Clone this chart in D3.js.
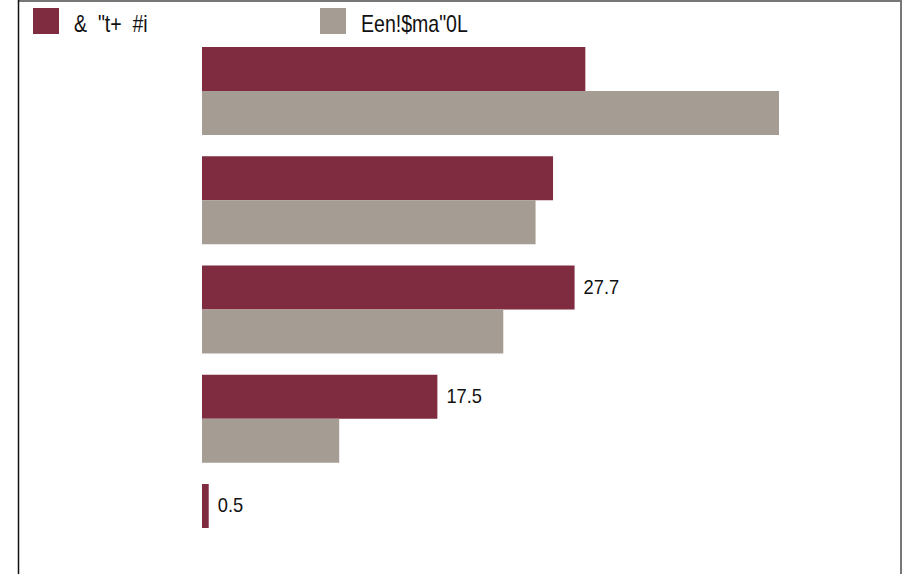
<!DOCTYPE html>
<html><head><meta charset="utf-8">
<script src="https://cdn.jsdelivr.net/npm/d3@7"></script>
<style>
html,body{margin:0;padding:0;background:#fff;}
svg{display:block;}
text{white-space:pre;}
</style></head>
<body>
<svg id="chart" width="909" height="574"></svg>
<script>
const categories = ["c1","c2","c3","c4","c5"];
const seriesNames = ["&  \"t+  #i", "Een!$ma\"0L"];
const series1 = [28.5, 26.1, 27.7, 17.5, 0.5];
const series2 = [42.9, 24.8, 22.4, 10.2, 0];
const showLabel1 = [false, false, true, true, true];
const colors = ["#7f2c40", "#a59d93"];

const svg = d3.select("#chart");
const W = 909, H = 574;
const FONT = "Liberation Sans, Arial, sans-serif";
const x = d3.scaleLinear().domain([0, 1]).range([202, 202 + 13.45]);
const y = d3.scaleBand().domain(categories).range([47, 572]).paddingInner(0.1945).paddingOuter(0);
const sub = d3.scaleBand().domain([0,1]).range([0, y.bandwidth()]);

// frame
svg.append("line").attr("x1",18).attr("x2",902).attr("y1",1).attr("y2",1).attr("stroke","#777").attr("stroke-width",2);
svg.append("line").attr("x1",901).attr("x2",901).attr("y1",0).attr("y2",H).attr("stroke","#777").attr("stroke-width",2);
svg.append("line").attr("x1",18.5).attr("x2",18.5).attr("y1",0).attr("y2",H).attr("stroke","#111").attr("stroke-width",1.5);

const g = svg.append("g");
categories.forEach((c, i) => {
  [series1, series2].forEach((s, k) => {
    if (s[i] > 0) {
      g.append("rect")
        .attr("x", x(0)).attr("y", y(c) + sub(k))
        .attr("width", x(s[i]) - x(0)).attr("height", sub.bandwidth())
        .attr("fill", colors[k]);
    }
  });
  if (showLabel1[i]) {
    const tx = x(series1[i]) + 9;
    const ty = y(c) + sub(0) + sub.bandwidth()/2 + 6.5;
    g.append("text")
      .attr("transform", `translate(${tx},${ty}) scale(0.87,1)`)
      .attr("font-family", FONT)
      .attr("font-size", 21)
      .attr("fill", "#111")
      .text(series1[i]);
  }
});

// legend
const legX = [33, 320];
seriesNames.forEach((n, k) => {
  svg.append("rect").attr("x", legX[k]).attr("y", 8).attr("width", 26).attr("height", 26).attr("fill", colors[k]);
  svg.append("text")
    .attr("transform", `translate(${legX[k] + 41},32) scale(0.85,1)`)
    .attr("font-family", FONT)
    .attr("font-size", 23).attr("fill", "#111").text(n);
});
</script>
</body></html>
